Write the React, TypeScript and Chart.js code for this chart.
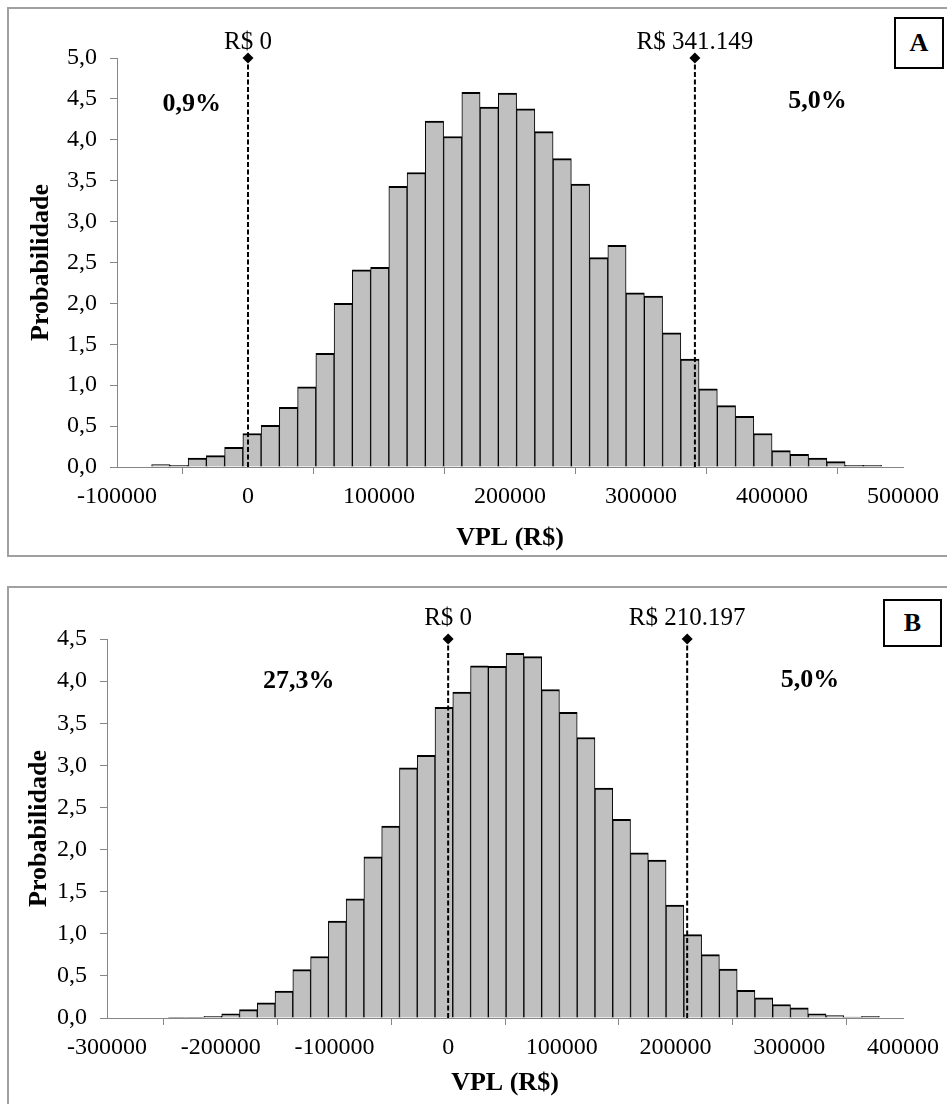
import React, { useEffect, useRef } from "react";
import { Chart, registerables } from "chart.js";

Chart.register(...registerables);

// ---------- Panel A data ----------
const binsA = [
  -66605, -52675, -38745, -24815, -10885, 3045, 16975, 30905, 44835, 58765,
  72695, 86625, 100555, 114485, 128415, 142345, 156275, 170205, 184135, 198065,
  211995, 225925, 239855, 253785, 267715, 281645, 295575, 309505, 323435, 337365,
  351295, 365225, 379155, 393085, 407015, 420945, 434875, 448805, 462735, 476665,
];
const probA = [
  0.03, 0.02, 0.11, 0.14, 0.24, 0.41, 0.51, 0.73, 0.98, 1.39,
  2.0, 2.41, 2.44, 3.43, 3.6, 4.23, 4.04, 4.58, 4.4, 4.57,
  4.38, 4.1, 3.77, 3.46, 2.56, 2.71, 2.13, 2.09, 1.64, 1.32,
  0.955, 0.75, 0.62, 0.41, 0.2, 0.155, 0.11, 0.065, 0.02, 0.02,
];
const cutsA = [0, 341149];
const cutLabelsA = ["R$ 0", "R$ 341.149"];
const pctLabelsA = ["0,9%", "5,0%"];

// ---------- Panel B data ----------
const binsB = [
  -238185, -222555, -206925, -191295, -175665, -160035, -144405, -128775, -113145, -97515,
  -81885, -66255, -50625, -34995, -19365, -3735, 11895, 27525, 43155, 58785,
  74415, 90045, 105675, 121305, 136935, 152565, 168195, 183825, 199455, 215085,
  230715, 246345, 261975, 277605, 293235, 308865, 324495, 340125, 355755, 371385,
];
const probB = [
  0.008, 0.008, 0.02, 0.05, 0.1, 0.18, 0.32, 0.575, 0.73, 1.15,
  1.415, 1.915, 2.28, 2.97, 3.12, 3.69, 3.87, 4.18, 4.175, 4.33,
  4.29, 3.9, 3.63, 3.33, 2.73, 2.36, 1.96, 1.875, 1.34, 0.99,
  0.753, 0.58, 0.33, 0.24, 0.16, 0.12, 0.05, 0.03, 0.012, 0.02,
];
const cutsB = [0, 210197];
const cutLabelsB = ["R$ 0", "R$ 210.197"];
const pctLabelsB = ["27,3%", "5,0%"];

const FONT = '"Liberation Serif", "Times New Roman", serif';
const AXIS_GREY = "#868686";

const textPlugin = {
  id: "annotText",
  afterDatasetsDraw(chart: any, _args: any, opts: any) {
    const { ctx } = chart;
    const x = chart.scales.x;
    const y = chart.scales.y;
    ctx.save();
    ctx.fillStyle = "#000";
    ctx.textAlign = "center";
    ctx.textBaseline = "middle";
    ctx.font = `25px ${FONT}`;
    const yTopPx = y.getPixelForValue(opts.yTop);
    opts.cuts.forEach((c: any) => {
      ctx.fillText(c.text, x.getPixelForValue(c.x), yTopPx - opts.rsOffset);
    });
    ctx.font = `bold 26px ${FONT}`;
    opts.pct.forEach((p: any) => {
      ctx.fillText(p.text, x.getPixelForValue(p.x), y.getPixelForValue(p.y));
    });
    ctx.restore();
  },
};

type PanelProps = {
  bins: number[];
  probs: number[];
  cuts: number[];
  cutLabels: string[];
  pctLabels: string[];
  pctPos: { x: number; y: number }[];
  xMin: number;
  xMax: number;
  yMax: number;
  width: number;
  height: number;
  yAxisWidth: number;
  xAxisHeight: number;
  padRight: number;
  padTop: number;
  yTitlePad: number;
  xTitlePad: number;
  rsOffset: number;
};

function Panel(p: PanelProps) {
  const ref = useRef<HTMLCanvasElement>(null);
  useEffect(() => {
    if (!ref.current) return;
    const cutDatasets = p.cuts.map((c) => ({
      type: "line" as const,
      data: [
        { x: c, y: 0 },
        { x: c, y: p.yMax },
      ],
      borderColor: "#000",
      borderWidth: 2,
      borderDash: [5, 2.5],
      pointStyle: "rectRot" as const,
      pointRadius: [0, 5.5],
      pointBackgroundColor: "#000",
      pointBorderColor: "#000",
      pointBorderWidth: 0,
      clip: false as any,
      order: 0,
    }));
    const chart = new Chart(ref.current, {
      type: "bar",
      data: {
        datasets: [
          ...cutDatasets,
          {
            type: "bar" as const,
            data: p.bins.map((b, i) => ({ x: b, y: p.probs[i] })),
            backgroundColor: "#c0c0c0",
            borderColor: "#000",
            borderWidth: { top: 2, left: 1, right: 1, bottom: 0 },
            borderSkipped: "bottom",
            barPercentage: 1,
            categoryPercentage: 1,
            order: 1,
          } as any,
        ],
      },
      options: {
        animation: false,
        responsive: false,
        maintainAspectRatio: false,
        layout: { padding: { left: 0, right: p.padRight, top: p.padTop, bottom: 0 } },
        plugins: {
          legend: { display: false },
          tooltip: { enabled: false },
          annotText: {
            yTop: p.yMax,
            rsOffset: p.rsOffset,
            cuts: p.cuts.map((c, i) => ({ x: c, text: p.cutLabels[i] })),
            pct: p.pctLabels.map((t, i) => ({ text: t, x: p.pctPos[i].x, y: p.pctPos[i].y })),
          },
        } as any,
        scales: {
          x: {
            type: "linear",
            min: p.xMin,
            max: p.xMax,
            offset: false,
            afterFit: (s: any) => {
              s.height = p.xAxisHeight;
            },
            ticks: {
              stepSize: 100000,
              color: "#000",
              font: { family: FONT, size: 24 },
              padding: 8,
              maxRotation: 0,
              autoSkip: false,
              callback: (v: any) => String(v),
            },
            grid: {
              display: true,
              drawOnChartArea: false,
              drawTicks: true,
              tickLength: 7,
              color: AXIS_GREY,
              lineWidth: 1,
            },
            border: { display: true, color: AXIS_GREY, width: 1 },
            title: {
              display: true,
              text: "VPL (R$)",
              color: "#000",
              font: { family: FONT, size: 26, weight: "bold" },
              padding: { top: 0, bottom: p.xTitlePad },
            },
          },
          y: {
            type: "linear",
            min: 0,
            max: p.yMax,
            afterFit: (s: any) => {
              s.width = p.yAxisWidth;
            },
            ticks: {
              stepSize: 0.5,
              color: "#000",
              font: { family: FONT, size: 24 },
              padding: 13,
              callback: (v: any) => Number(v).toFixed(1).replace(".", ","),
            },
            grid: {
              display: true,
              drawOnChartArea: false,
              drawTicks: true,
              tickLength: 7,
              color: AXIS_GREY,
              lineWidth: 1,
            },
            border: { display: true, color: AXIS_GREY, width: 1 },
            title: {
              display: true,
              text: "Probabilidade",
              color: "#000",
              font: { family: FONT, size: 26, weight: "bold" },
              padding: { top: p.yTitlePad, bottom: 0 },
            },
          },
        },
      },
      plugins: [textPlugin as any],
    });
    return () => chart.destroy();
  }, []);
  return (
    <canvas
      ref={ref}
      width={p.width}
      height={p.height}
      style={{ display: "block", width: p.width, height: p.height }}
    />
  );
}

const frameStyle: React.CSSProperties = {
  position: "absolute",
  left: 7,
  width: 940,
  border: "2px solid #a0a0a0",
  background: "#fff",
};

const letterBox = (left: number, top: number, w: number, h: number): React.CSSProperties => ({
  position: "absolute",
  left,
  top,
  width: w,
  height: h,
  boxSizing: "border-box",
  border: "2px solid #000",
  display: "flex",
  alignItems: "center",
  justifyContent: "center",
  fontFamily: FONT,
  fontWeight: "bold",
  fontSize: 26,
  background: "#fff",
});

export default function App() {
  return (
    <div
      style={{
        position: "fixed",
        left: 0,
        top: 0,
        width: 947,
        height: 1104,
        overflow: "hidden",
        background: "#fff",
      }}
    >
      <div style={{ ...frameStyle, top: 7, height: 546 }}>
        <Panel
          bins={binsA}
          probs={probA}
          cuts={cutsA}
          cutLabels={cutLabelsA}
          pctLabels={pctLabelsA}
          pctPos={[
            { x: -42900, y: 4.44 },
            { x: 434650, y: 4.47 },
          ]}
          xMin={-100000}
          xMax={500000}
          yMax={5}
          width={938}
          height={546}
          yAxisWidth={108}
          xAxisHeight={88}
          padRight={43}
          padTop={49}
          yTitlePad={17}
          xTitlePad={1}
          rsOffset={16}
        />
      </div>
      <div style={{ ...frameStyle, top: 586, height: 530 }}>
        <Panel
          bins={binsB}
          probs={probB}
          cuts={cutsB}
          cutLabels={cutLabelsB}
          pctLabels={pctLabelsB}
          pctPos={[
            { x: -131460, y: 4.0 },
            { x: 318140, y: 4.01 },
          ]}
          xMin={-300000}
          xMax={400000}
          yMax={4.5}
          width={938}
          height={530}
          yAxisWidth={98}
          xAxisHeight={100}
          padRight={42}
          padTop={51}
          yTitlePad={15}
          xTitlePad={19}
          rsOffset={21}
        />
      </div>
      <div style={letterBox(894, 17, 50, 52)}>A</div>
      <div style={letterBox(883, 599, 59, 48)}>B</div>
    </div>
  );
}
